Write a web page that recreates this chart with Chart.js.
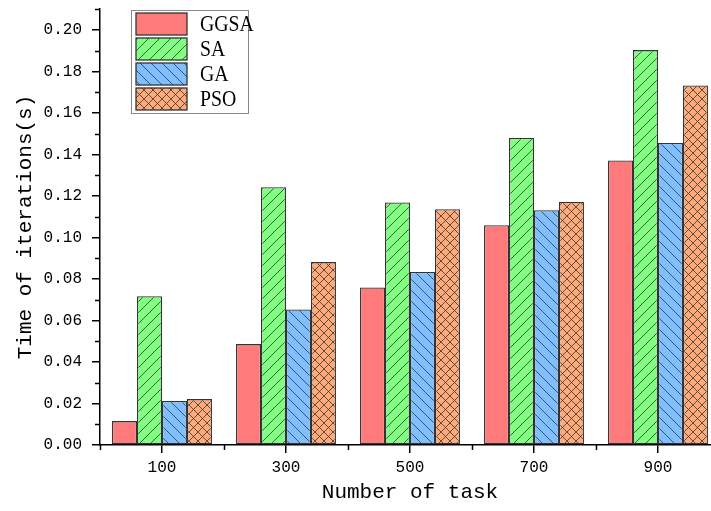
<!DOCTYPE html>
<html>
<head>
<meta charset="utf-8">
<script src="https://cdn.jsdelivr.net/npm/chart.js@4"></script>
<style>
  html, body { margin: 0; padding: 0; background: #fff; overflow: hidden; }
  #chart { display: block; }
</style>
</head>
<body>
<canvas id="chart" width="720" height="511" style="width:720px;height:511px"></canvas>
<script>
const categories = ["100", "300", "500", "700", "900"];
const ggsa = [0.0115, 0.0486, 0.0759, 0.1059, 0.1370];
const sa = [0.0717, 0.1242, 0.1168, 0.1479, 0.1902];
const ga = [0.0212, 0.0653, 0.0833, 0.1131, 0.1455];
const pso = [0.0221, 0.0881, 0.1136, 0.1171, 0.1732];
const seriesNames = ["GGSA", "SA", "GA", "PSO"];

function makePattern(bg, kind) {
  const s = kind === "cross" ? 9 : 11;
  const c = document.createElement("canvas");
  c.width = s;
  c.height = s;
  const g = c.getContext("2d");
  g.fillStyle = bg;
  g.fillRect(0, 0, s, s);
  if (kind) {
    g.strokeStyle = "#333";
    g.lineWidth = 0.8;
    g.beginPath();
    if (kind === "fwd" || kind === "cross") { g.moveTo(-1, s + 1); g.lineTo(s + 1, -1); }
    if (kind === "back" || kind === "cross") { g.moveTo(-1, -1); g.lineTo(s + 1, s + 1); }
    g.stroke();
  }
  return g.createPattern(c, "repeat");
}

const fills = [
  "#ff7b7b",
  makePattern("#80ff80", "fwd"),
  makePattern("#80bfff", "back"),
  makePattern("#ffaa78", "cross"),
];

// minor ticks + legend box drawn on top
const extras = {
  id: "extras",
  afterDraw(chart) {
    const ctx = chart.ctx;
    const x = chart.scales.x, y = chart.scales.y;
    const area = chart.chartArea;
    ctx.save();
    ctx.strokeStyle = "#000";
    ctx.lineWidth = 1.5;
    ctx.beginPath();
    for (let v = 0.01; v < 0.215; v += 0.02) {
      const py = Math.round(y.getPixelForValue(v)) + 0.5;
      ctx.moveTo(area.left, py);
      ctx.lineTo(area.left - 5, py);
    }
    const step = x.getPixelForValue(1) - x.getPixelForValue(0);
    for (let i = 0; i <= categories.length; i++) {
      const px = Math.round(x.getPixelForValue(0) - step / 2 + i * step) + 0.5;
      ctx.moveTo(px, area.bottom);
      ctx.lineTo(px, area.bottom + 5);
    }
    ctx.stroke();

    // legend
    const lx = 131, ly = 10, lw = 117, lh = 103;
    ctx.fillStyle = "#fff";
    ctx.fillRect(lx, ly, lw, lh);
    ctx.strokeStyle = "#888";
    ctx.lineWidth = 1;
    ctx.strokeRect(lx + 0.5, ly + 0.5, lw, lh);
    chart.data.datasets.forEach((ds, i) => {
      const sy = 13 + i * 25;
      ctx.fillStyle = ds.backgroundColor;
      ctx.fillRect(136, sy, 51, 22);
      ctx.strokeStyle = "#333";
      ctx.lineWidth = 1.3;
      ctx.strokeRect(136, sy, 51, 22);
      ctx.save();
      ctx.translate(200, sy + 12);
      ctx.scale(0.86, 1);
      ctx.fillStyle = "#000";
      ctx.font = "23px 'Liberation Serif'";
      ctx.textBaseline = "middle";
      ctx.fillText(ds.label, 0, 0);
      ctx.restore();
    });
    ctx.restore();
  },
};

const tickFont = { family: "'Liberation Mono'", size: 16 };
const titleFont = { family: "'Liberation Mono'", size: 21 };

new Chart(document.getElementById("chart"), {
  type: "bar",
  data: {
    labels: categories,
    datasets: [ggsa, sa, ga, pso].map((d, i) => ({
      label: seriesNames[i],
      data: d,
      backgroundColor: fills[i],
      borderColor: "#333",
      borderWidth: 1.3,
      borderSkipped: false,
      categoryPercentage: 0.806,
      barPercentage: 1,
    })),
  },
  options: {
    responsive: false,
    animation: false,
    layout: { padding: { top: 9, left: 0, right: 0, bottom: 0 } },
    plugins: { legend: { display: false }, tooltip: { enabled: false } },
    scales: {
      x: {
        grid: { display: true, drawOnChartArea: false, offset: false, tickLength: 8, color: "#000", lineWidth: 1.5 },
        border: { display: true, color: "#000", width: 1.5 },
        ticks: { color: "#000", font: tickFont, padding: 5, maxRotation: 0 },
        title: { display: true, text: "Number of task", color: "#000", font: titleFont, padding: { top: 0, bottom: 6 } },
        afterFit(scale) { scale.height = 66; scale.paddingLeft = 0; scale.paddingRight = 0; },
      },
      y: {
        min: 0,
        max: 0.21,
        grid: { display: true, drawOnChartArea: false, tickLength: 8, color: "#000", lineWidth: 1.5 },
        border: { display: true, color: "#000", width: 1.5 },
        ticks: {
          stepSize: 0.02,
          includeBounds: false,
          color: "#000",
          font: tickFont,
          padding: 10,
          callback: (v) => v.toFixed(2),
        },
        title: { display: true, text: "Time of iterations(s)", color: "#000", font: titleFont, padding: { top: 13, bottom: 0 } },
        afterFit(scale) { scale.width = 100; scale.paddingTop = 0; scale.paddingBottom = 0; },
      },
    },
  },
  plugins: [extras],
});
</script>
</body>
</html>
